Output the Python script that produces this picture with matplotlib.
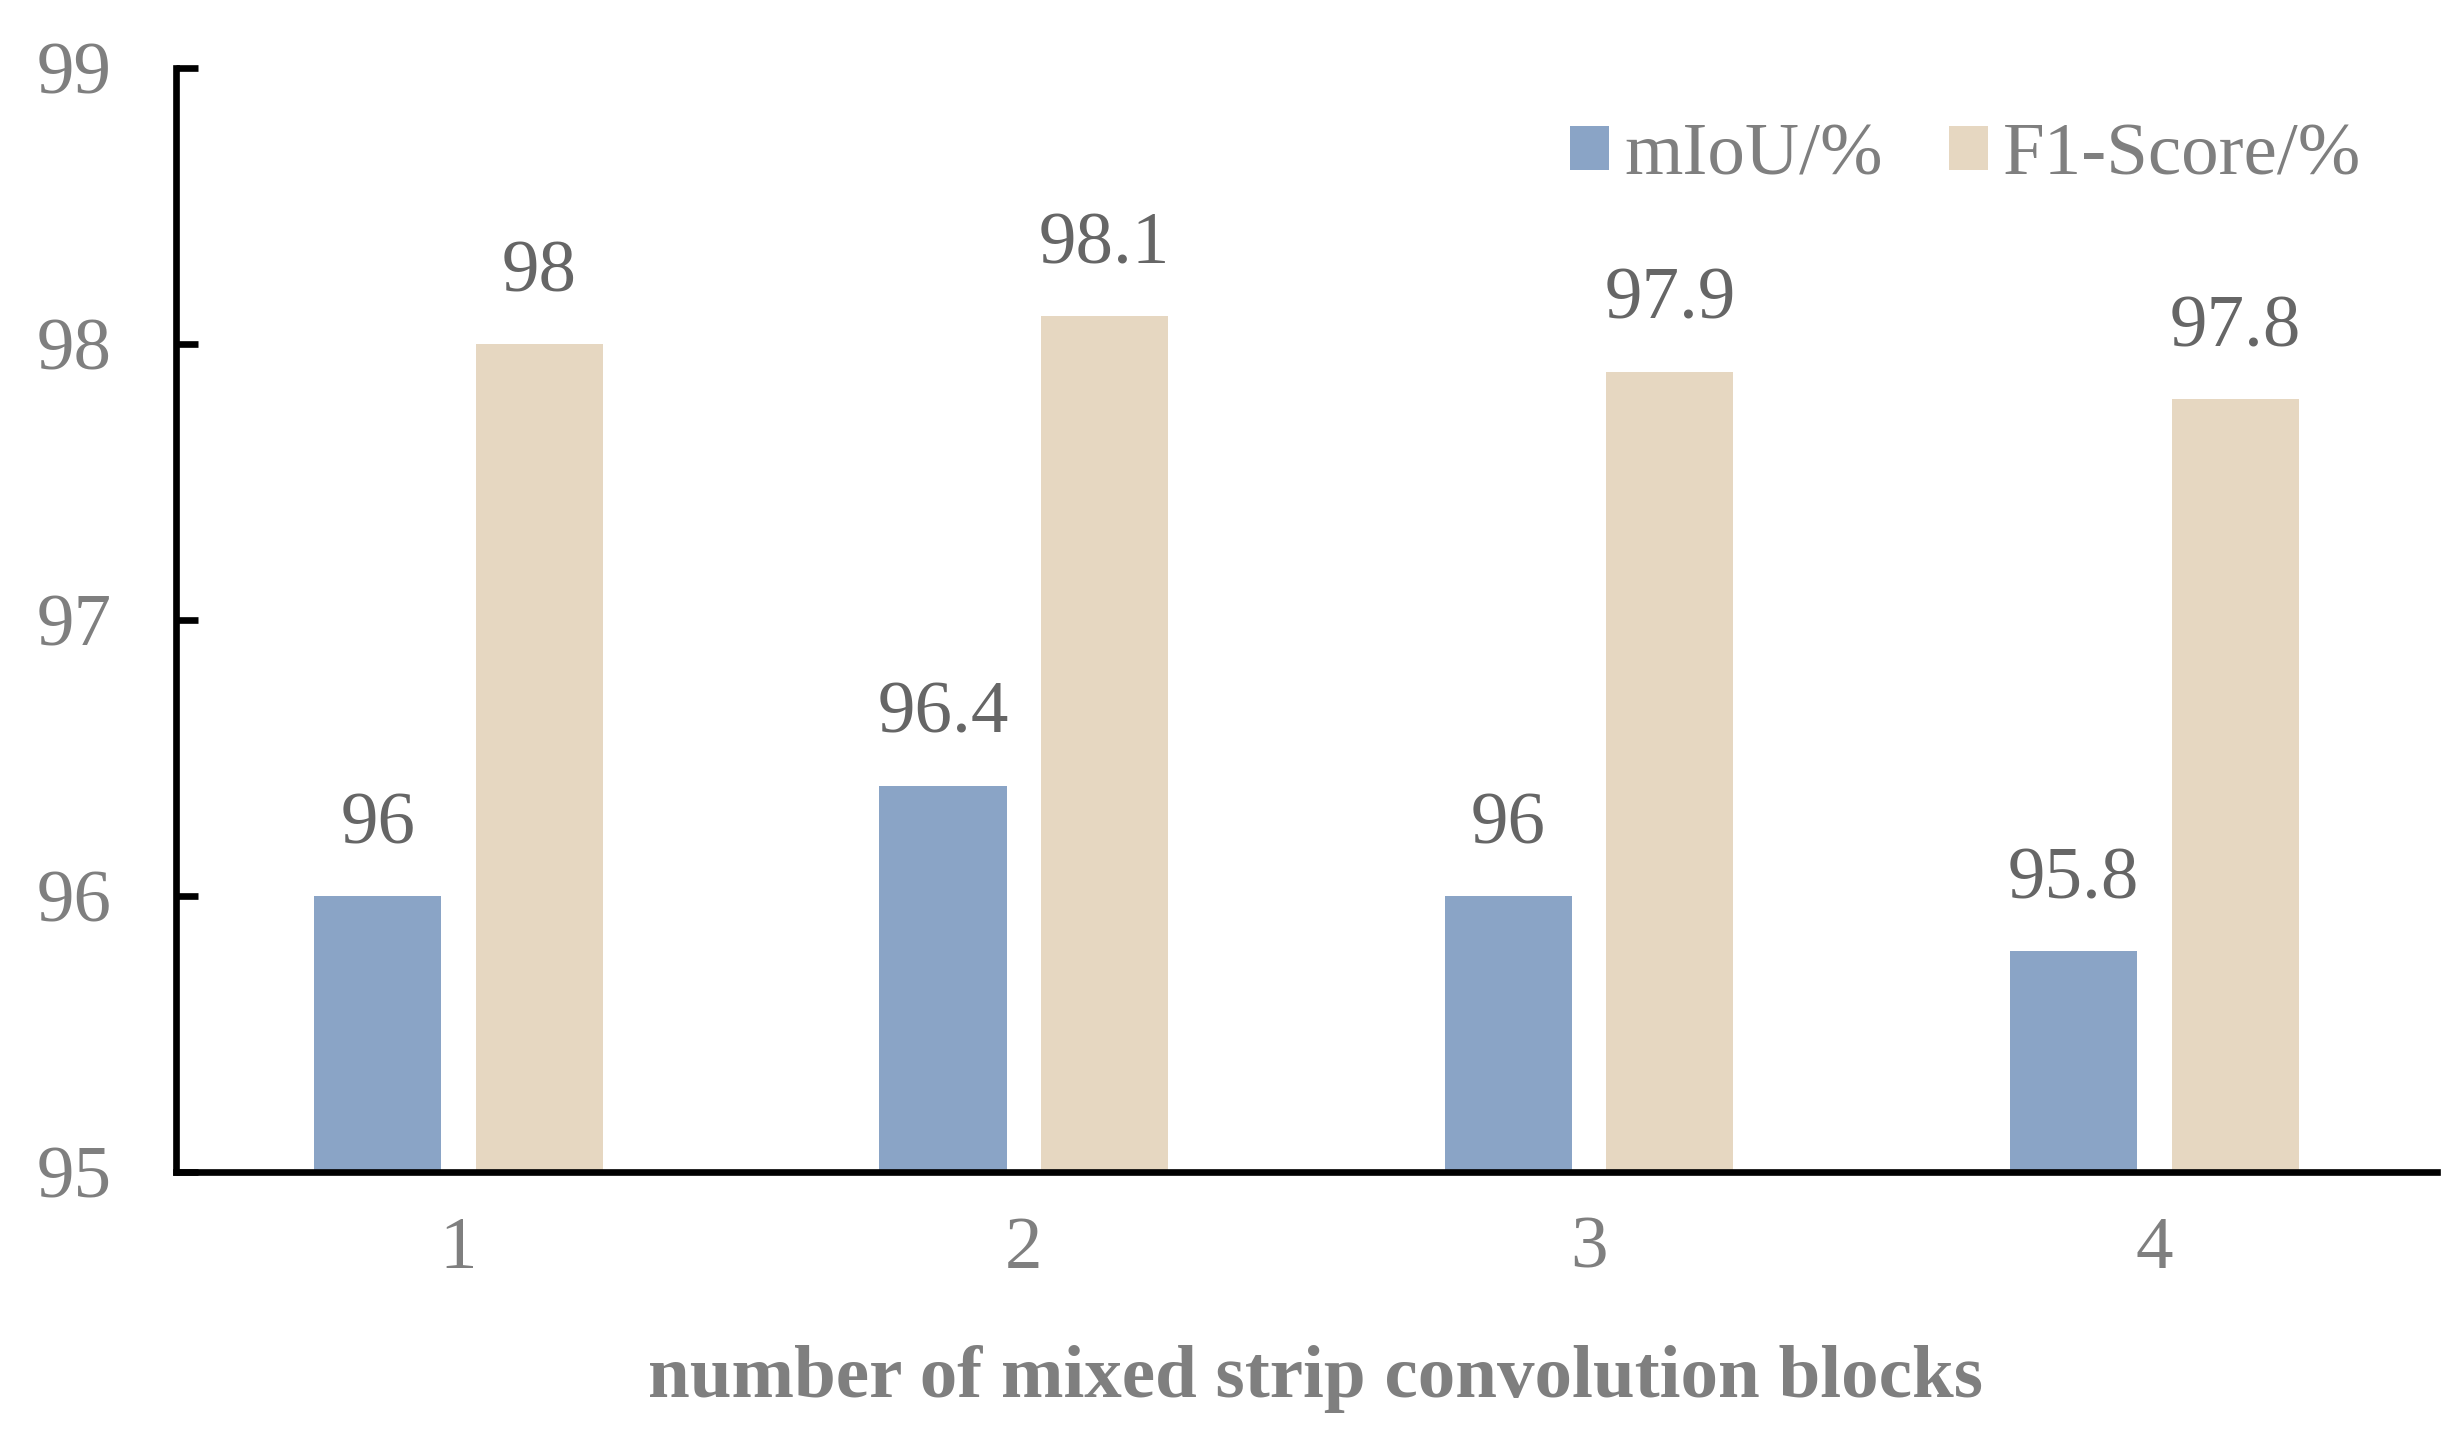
import numpy as np
import matplotlib
matplotlib.use("Agg")
import matplotlib.pyplot as plt

# データ
categories = ["1", "2", "3", "4"]
miou = [96.0, 96.4, 96.0, 95.8]
f1_score = [98.0, 98.1, 97.9, 97.8]
series_names = ["mIoU/%", "F1-Score/%"]
y_ticks = [95, 96, 97, 98, 99]
x_label = "number of mixed strip convolution blocks"

plt.rcParams['font.family'] = ['Liberation Serif', 'DejaVu Serif']

blue = "#8AA4C6"
beige = "#E6D7C1"
gray = "#7F7F7F"
dark_gray = "#666666"

fig = plt.figure(figsize=(24.61, 14.32), dpi=100)
ax = fig.add_axes([0.0715, 0.1816, 0.9187, 0.7709])

x = np.arange(1, len(categories) + 1)
w = 0.225
off = 0.143
b1 = ax.bar(x - off, miou, w, color=blue, label=series_names[0], zorder=2)
b2 = ax.bar(x + off, f1_score, w, color=beige, label=series_names[1], zorder=2)

# 数値ラベル
for bars, vals in [(b1, miou), (b2, f1_score)]:
    for rect, v in zip(bars, vals):
        ax.annotate(f"{v:g}", (rect.get_x() + rect.get_width() / 2, v),
                    xytext=(0, 38), textcoords="offset points",
                    ha="center", va="baseline", fontsize=54, color=dark_gray)

ax.set_xlim(0.5, 4.5)
ax.set_ylim(95, 99)
ax.set_yticks(y_ticks)
ax.set_xticks(x)
ax.set_xticklabels(categories)

for s in ["top", "right"]:
    ax.spines[s].set_visible(False)
for s in ["left", "bottom"]:
    ax.spines[s].set_linewidth(4.8)
    ax.spines[s].set_zorder(3)

ax.tick_params(axis="y", direction="in", length=16, width=4.8, pad=46,
               labelsize=54, labelcolor=gray)
ax.tick_params(axis="x", length=0, pad=32, labelsize=54, labelcolor=gray)

ax.set_xlabel(x_label, fontsize=54, fontweight="bold", color=gray)
ax.xaxis.set_label_coords(0.504, -0.157)

fig.legend(handles=[b1, b2], labels=series_names, loc="center left",
           bbox_to_anchor=(1570 / 2461, 1 - 157 / 1432), ncol=2, frameon=False,
           fontsize=54, labelcolor=gray, handlelength=0.52, handleheight=0.52,
           handletextpad=0.2, columnspacing=0.88, borderpad=0, borderaxespad=0)

plt.savefig("out.png", dpi=100)
